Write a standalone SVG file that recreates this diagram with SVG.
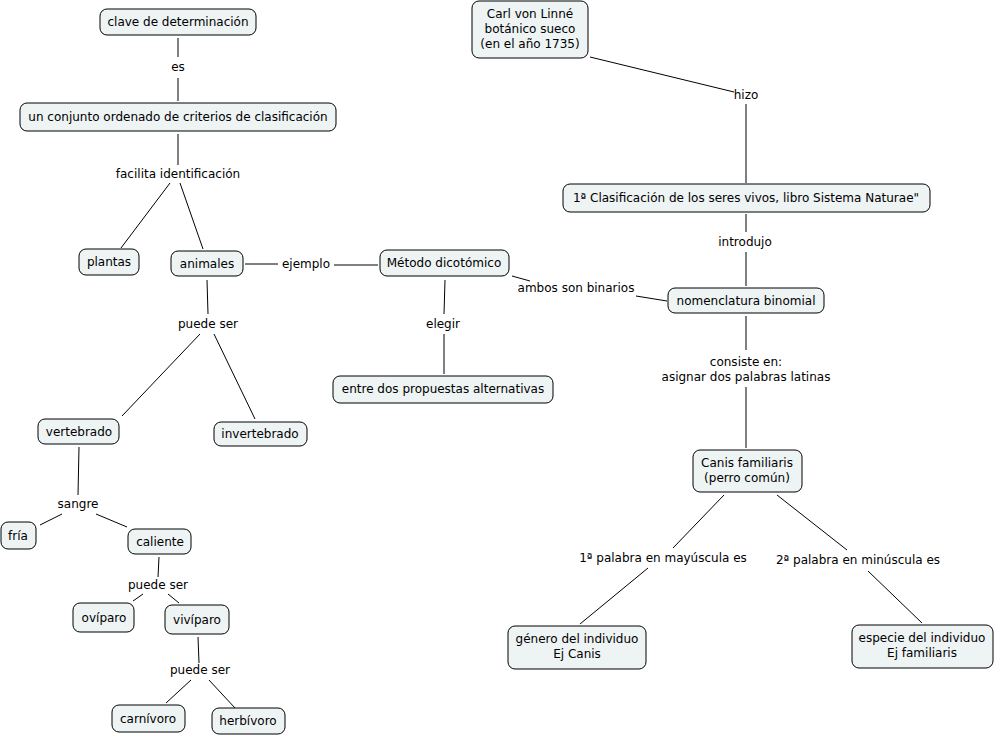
<svg xmlns="http://www.w3.org/2000/svg" width="996" height="737" viewBox="0 0 996 737">
<style>
.n rect{fill:#eef3f4;stroke:#000;stroke-width:1}
text{font-family:"DejaVu Sans",Verdana,sans-serif;font-size:12px;fill:#000;text-anchor:middle}
.c line{stroke:#000;stroke-width:1}
</style>
<rect width="996" height="737" fill="#fff"/>
<g class="c">
<line x1="178" y1="38" x2="178" y2="57"/><line x1="178" y1="78" x2="178" y2="101"/>
<line x1="178" y1="134" x2="178" y2="165"/><line x1="170" y1="183" x2="121" y2="248"/><line x1="180" y1="183" x2="203" y2="249"/>
<line x1="245" y1="264" x2="278" y2="264"/><line x1="334" y1="265" x2="378" y2="265"/>
<line x1="512" y1="276" x2="530" y2="281"/><line x1="636" y1="296" x2="667" y2="301"/>
<line x1="445" y1="280" x2="444" y2="314"/><line x1="444" y1="334" x2="444" y2="374"/>
<line x1="207" y1="280" x2="208" y2="314"/><line x1="200" y1="334" x2="122" y2="416"/><line x1="214" y1="334" x2="255" y2="419"/>
<line x1="79" y1="447" x2="78" y2="495"/><line x1="62" y1="514" x2="40" y2="525"/><line x1="96" y1="514" x2="127" y2="527"/>
<line x1="159" y1="557" x2="158" y2="577"/><line x1="143" y1="594" x2="133" y2="601"/><line x1="168" y1="594" x2="179" y2="603"/>
<line x1="198" y1="637" x2="199" y2="663"/><line x1="191" y1="680" x2="166" y2="703"/><line x1="209" y1="680" x2="235" y2="708"/>
<line x1="590" y1="57" x2="734" y2="92"/><line x1="746" y1="104" x2="746" y2="183"/>
<line x1="746" y1="214" x2="746" y2="232"/><line x1="746" y1="252" x2="746" y2="286"/>
<line x1="746" y1="316" x2="746" y2="350"/><line x1="746" y1="387" x2="746" y2="448"/>
<line x1="724" y1="495" x2="673" y2="548"/><line x1="648" y1="568" x2="580" y2="624"/>
<line x1="777" y1="495" x2="847" y2="550"/><line x1="868" y1="571" x2="922" y2="623"/>
</g>
<g id="labels">
<text x="178" y="71">es</text>
<text x="178" y="178">facilita identificación</text>
<text x="306" y="268">ejemplo</text>
<text x="576" y="292">ambos son binarios</text>
<text x="443" y="328">elegir</text>
<text x="208" y="328">puede ser</text>
<text x="78" y="508">sangre</text>
<text x="158" y="589">puede ser</text>
<text x="200" y="674">puede ser</text>
<text x="746" y="99">hizo</text>
<text x="745" y="246">introdujo</text>
<text x="746" y="366">consiste en:</text>
<text x="746" y="381">asignar dos palabras latinas</text>
<text x="663" y="562">1ª palabra en mayúscula es</text>
<text x="858" y="564">2ª palabra en minúscula es</text>
</g>
<g id="n1" class="n"><rect x="100" y="9" width="156" height="26" rx="7"/><text x="178" y="26">clave de determinación</text></g>
<g id="n2" class="n"><rect x="20" y="103" width="316" height="28" rx="7"/><text x="178" y="121">un conjunto ordenado de criterios de clasificación</text></g>
<g id="n3" class="n"><rect x="79" y="249" width="60" height="26" rx="7"/><text x="109" y="266">plantas</text></g>
<g id="n4" class="n"><rect x="171" y="251" width="72" height="25" rx="7"/><text x="207" y="268">animales</text></g>
<g id="n5" class="n"><rect x="380" y="250" width="129" height="26" rx="7"/><text x="444" y="267">Método dicotómico</text></g>
<g id="n6" class="n"><rect x="333" y="376" width="220" height="27" rx="7"/><text x="443" y="393">entre dos propuestas alternativas</text></g>
<g id="n7" class="n"><rect x="38" y="419" width="81" height="25" rx="7"/><text x="79" y="436">vertebrado</text></g>
<g id="n8" class="n"><rect x="214" y="422" width="93" height="24" rx="7"/><text x="260" y="438">invertebrado</text></g>
<g id="n9" class="n"><rect x="1" y="522" width="35" height="27" rx="7"/><text x="18" y="540">fría</text></g>
<g id="n10" class="n"><rect x="128" y="529" width="63" height="25" rx="7"/><text x="160" y="546">caliente</text></g>
<g id="n11" class="n"><rect x="73" y="603" width="61" height="29" rx="7"/><text x="104" y="622">ovíparo</text></g>
<g id="n12" class="n"><rect x="165" y="605" width="64" height="29" rx="7"/><text x="197" y="624">vivíparo</text></g>
<g id="n13" class="n"><rect x="112" y="705" width="73" height="27" rx="7"/><text x="148" y="723">carnívoro</text></g>
<g id="n14" class="n"><rect x="212" y="708" width="73" height="26" rx="7"/><text x="248" y="725">herbívoro</text></g>
<g id="n15" class="n"><rect x="472" y="1" width="116" height="57" rx="7"/><text x="530" y="18">Carl von Linné</text><text x="530" y="33">botánico sueco</text><text x="530" y="48">(en el año 1735)</text></g>
<g id="n16" class="n"><rect x="563" y="184" width="367" height="28" rx="7"/><text x="746" y="202">1ª Clasificación de los seres vivos, libro Sistema Naturae"</text></g>
<g id="n17" class="n"><rect x="668" y="288" width="156" height="25" rx="7"/><text x="746" y="305">nomenclatura binomial</text></g>
<g id="n18" class="n"><rect x="693" y="450" width="109" height="42" rx="7"/><text x="747" y="467">Canis familiaris</text><text x="747" y="482">(perro común)</text></g>
<g id="n19" class="n"><rect x="508" y="626" width="138" height="43" rx="7"/><text x="577" y="643">género del individuo</text><text x="577" y="658">Ej Canis</text></g>
<g id="n20" class="n"><rect x="852" y="625" width="141" height="43" rx="7"/><text x="922" y="642">especie del individuo</text><text x="922" y="657">Ej familiaris</text></g>
</svg>
